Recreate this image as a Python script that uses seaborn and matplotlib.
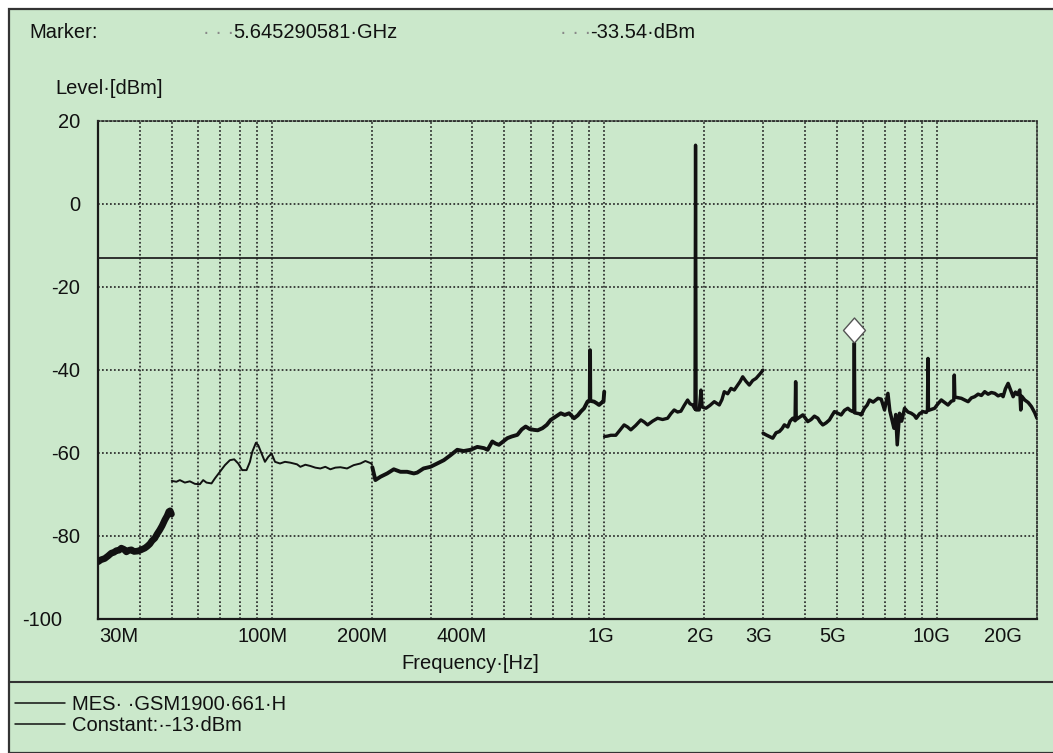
import matplotlib
matplotlib.use("Agg")
import matplotlib.pyplot as plt
from matplotlib.lines import Line2D
from matplotlib.patches import Rectangle
from matplotlib.transforms import ScaledTranslation
import pandas as pd
import seaborn as sns

# ---------------------------------------------------------------------------
# Measured spectrum, split at the receiver band edges (frequency in MHz, level in dBm)
# ---------------------------------------------------------------------------
band1_freq = [30.0, 30.63, 31.43, 32.15, 32.90, 33.52, 34.06, 34.70, 35.26, 35.93,
              36.51, 37.20, 37.80, 38.51, 39.59, 40.43, 41.48, 42.14, 42.94, 43.64,
              44.46, 45.17, 46.02, 46.77, 47.65, 48.42, 48.99, 49.44, 49.9]
band1_level = [-86.3, -85.8, -85.5, -84.9, -84.2, -84.0, -83.6, -83.5, -83.0, -83.3,
               -83.9, -83.5, -83.4, -83.8, -83.7, -83.4, -83.0, -82.6, -82.0, -81.2,
               -80.6, -79.6, -78.6, -77.6, -76.2, -75.2, -74.2, -74.0, -74.8]

band2_freq = [50.0, 51.64, 52.87, 54.74, 56.66, 58.66, 60.74, 62.15, 63.59, 65.84,
              67.40, 69.79, 72.24, 74.79, 77.05, 79.22, 81.44, 83.91, 85.91, 87.30,
              89.56, 91.00, 93.12, 95.33, 97.54, 99.80, 102.2, 105.8, 109.5, 113.6,
              119.0, 121.8, 126.1, 130.5, 135.1, 139.9, 144.8, 149.9, 155.2, 160.7,
              168.3, 176.2, 184.6, 191.1, 197.9, 200.0]
band2_level = [-66.8, -67.0, -66.6, -67.2, -66.9, -67.5, -67.6, -66.6, -67.2, -67.4,
               -66.2, -64.6, -63.0, -61.8, -61.6, -62.6, -64.2, -64.2, -62.2, -59.8,
               -57.6, -58.2, -60.2, -62.2, -61.0, -60.2, -62.2, -62.6, -62.2, -62.4,
               -62.8, -63.4, -62.9, -63.2, -63.6, -63.8, -63.4, -64.0, -63.6, -63.5,
               -63.8, -63.0, -62.6, -62.0, -62.5, -62.8]

band3_freq = [200.5, 204.8, 212.1, 222.2, 232.6, 243.6, 255.2, 267.2, 273.5, 285.8,
              300.0, 314.3, 329.0, 344.6, 361.0, 377.2, 395.9, 414.8, 434.2, 445.5,
              460.2, 470.9, 481.8, 494.3, 510.7, 526.2, 547.4, 564.0, 579.8, 596.2,
              614.2, 630.3, 651.1, 670.9, 689.7, 714.1, 739.3, 760.1, 783.1, 810.7,
              831.8, 849.2, 868.8, 889.5, 903.8, 905.5, 907.0, 931.2, 948.7, 963.9,
              982.2, 993.8, 999.0]
band3_level = [-63.5, -66.6, -65.8, -65.0, -64.0, -64.6, -64.6, -65.0, -64.8, -63.8,
               -63.4, -62.6, -61.8, -60.6, -59.3, -59.6, -59.3, -58.6, -58.9, -59.3,
               -57.3, -57.8, -58.1, -57.4, -56.5, -56.1, -55.7, -54.4, -53.7, -54.3,
               -54.5, -54.6, -54.1, -53.3, -52.1, -51.3, -50.5, -50.9, -50.5, -51.7,
               -51.0, -50.1, -49.3, -47.7, -47.3, -35.3, -47.5, -47.7, -48.1, -48.5,
               -47.9, -47.7, -45.3]

band4_freq = [1001.0, 1021.7, 1045.5, 1082.3, 1112.9, 1146.5, 1173.9, 1201.0, 1243.5, 1287.2,
              1317.2, 1348.5, 1396.2, 1445.3, 1496.4, 1549.3, 1585.0, 1621.5, 1660.4, 1698.7,
              1738.3, 1779.5, 1808.1, 1842.5, 1873.0, 1880.0, 1887.0, 1928.6, 1951.7, 1968.0,
              2020.4, 2077.4, 2140.1, 2215.7, 2257.4, 2293.5, 2348.6, 2402.8, 2458.6, 2517.0,
              2557.4, 2606.1, 2666.2, 2727.7, 2793.3, 2857.7, 2938.5, 2999.0]
band4_level = [-56.1, -56.0, -55.8, -55.8, -54.6, -53.3, -53.8, -54.5, -53.4, -52.1,
               -52.6, -53.3, -52.4, -51.7, -52.0, -51.7, -50.6, -49.7, -50.2, -50.0,
               -48.6, -47.3, -48.2, -48.5, -49.5, 14.1, -49.7, -49.7, -44.9, -49.0,
               -49.3, -48.6, -47.7, -48.5, -47.2, -45.3, -45.8, -44.5, -44.9, -43.7,
               -42.9, -41.7, -42.8, -43.7, -42.6, -42.1, -41.0, -40.1]

band5_freq = [3001.0, 3062.7, 3134.1, 3208.5, 3283.2, 3358.8, 3422.1, 3477.6, 3560.1, 3617.4,
              3686.4, 3745.5, 3760.0, 3775.0, 3951.0, 4014.3, 4089.9, 4185.0, 4281.6, 4383.9,
              4454.4, 4538.4, 4644.0, 4751.1, 4840.5, 4919.1, 5036.1, 5152.2, 5272.2, 5397.3,
              5483.7, 5588.1, 5630.0, 5645.290581, 5660.0, 5838.0, 5919.3, 6056.1, 6171.3, 6270.3,
              6432.6, 6646.5, 6799.8, 6957.9, 7123.2, 7218.0, 7287.6, 7426.5, 7520.0, 7597.8,
              7719.6, 7835.0, 7993.2, 8183.1, 8373.6, 8549.4, 8668.2, 8870.1, 9080.7, 9292.2,
              9370.0, 9400.0, 9430.0, 9842.7, 10076.0, 10309.0, 10549.0, 10799.0, 11051.0, 11240.0,
              11280.0, 11320.0, 11847.0, 12120.0, 12411.0, 12697.0, 12990.0, 13302.0, 13609.0, 13925.0,
              14256.0, 14585.0, 14924.0, 15279.0, 15634.0, 15815.0, 16072.0, 16374.0, 16640.0, 16954.0,
              17225.0, 17469.0, 17749.0, 17870.0, 18000.0, 18373.0, 18813.0, 19248.0, 19696.0, 20000.0]
band5_level = [-55.3, -55.7, -56.1, -56.5, -55.2, -54.9, -54.2, -53.3, -53.8, -52.4,
               -51.7, -52.3, -42.9, -52.0, -50.9, -51.6, -52.5, -52.0, -51.2, -51.7,
               -52.6, -53.3, -52.8, -52.1, -51.0, -50.1, -50.5, -50.9, -49.8, -49.3,
               -49.8, -50.1, -49.9, -33.54, -50.4, -50.6, -50.9, -49.3, -48.5, -47.3,
               -47.8, -46.9, -47.1, -49.7, -45.7, -49.9, -51.3, -54.1, -50.8, -58.1,
               -50.5, -52.4, -49.3, -50.2, -50.5, -51.0, -51.7, -50.6, -50.1, -50.3,
               -49.7, -37.3, -49.8, -49.3, -48.2, -47.3, -47.9, -48.5, -47.6, -47.4,
               -41.3, -46.6, -46.9, -47.3, -47.7, -46.8, -46.5, -45.9, -46.2, -45.3,
               -45.9, -45.5, -45.7, -46.3, -46.0, -46.5, -44.6, -43.3, -44.8, -46.5,
               -45.4, -46.0, -44.9, -49.7, -46.4, -47.3, -47.9, -48.9, -50.4, -51.7]

limit_level = -13.0
marker_freq = 5645.290581
marker_level = -33.54

x_tick_freqs = [30, 100, 200, 400, 1000, 2000, 3000, 5000, 10000, 20000]
x_tick_labels = ["30M", "100M", "200M", "400M", "1G", "2G", "3G", "5G", "10G", "20G"]
grid_freqs = [40, 50, 60, 70, 80, 90,
              100, 200, 300, 400, 500, 600, 700, 800, 900,
              1000, 2000, 3000, 4000, 5000, 6000, 7000, 8000, 9000, 10000]
y_ticks = [-100, -80, -60, -40, -20, 0, 20]
y_tick_labels = ["-100", "-80", "-60", "-40", "-20", "0", "20"]

trace_name = "MES\u00b7 \u00b7GSM1900\u00b7661\u00b7H"
limit_name = "Constant:\u00b7-13\u00b7dBm"

# ---------------------------------------------------------------------------
# Styling
# ---------------------------------------------------------------------------
sns.set_style("white")
plt.rcParams["font.family"] = ["Liberation Sans", "DejaVu Sans"]
FS = 14.5
BG = "#cbe8cb"
INK = "#111111"
W, H = 1053, 753

fig = plt.figure(figsize=(W / 100, H / 100), dpi=100)
fig.patch.set_facecolor("white")


def fx(px):
    return px / W


def fy(py):
    return 1 - py / H


def shift(dx_px, dy_px):
    return ScaledTranslation(dx_px / 100, dy_px / 100, fig.dpi_scale_trans)


# panel background with its frame
fig.add_artist(Rectangle((fx(9), 0), 1 - fx(9) + 0.01, fy(9), transform=fig.transFigure,
                         facecolor=BG, edgecolor="#333333", lw=1.6, zorder=0))
# separator above the legend block
fig.add_artist(Line2D([fx(9), 1], [fy(682), fy(682)], transform=fig.transFigure,
                      color="#333333", lw=1.5))

ax = fig.add_axes([fx(98), fy(618.7), fx(1037) - fx(98), fy(120.7) - fy(618.7)])
ax.set_facecolor(BG)
ax.set_xscale("log")

segments = [
    (band1_freq, band1_level, 4.8),
    (band2_freq, band2_level, 1.4),
    (band3_freq, band3_level, 2.8),
    (band4_freq, band4_level, 2.4),
    (band5_freq, band5_level, 2.5),
]
for freq, level, lw in segments:
    df = pd.DataFrame({"freq": freq, "level": level})
    sns.lineplot(data=df, x="freq", y="level", ax=ax, color=INK, lw=lw,
                 estimator=None, sort=False, legend=False, zorder=4)

lim_df = pd.DataFrame({"freq": [x_tick_freqs[0], x_tick_freqs[-1]],
                       "level": [limit_level, limit_level]})
sns.lineplot(data=lim_df, x="freq", y="level", ax=ax, color="#222222", lw=1.3,
             estimator=None, legend=False, zorder=3)

# marker symbol sits on top of the marked peak
diamond = [(0, -1), (0.88, 0), (0, 1), (-0.88, 0), (0, -1)]
ax.plot([marker_freq], [marker_level], marker=diamond, ms=18, mfc="white",
        mec="#555555", mew=1.0, ls="none", zorder=6, transform=ax.transData + shift(0, 12.5))

ax.set_xlim(x_tick_freqs[0], x_tick_freqs[-1])
ax.set_ylim(y_ticks[0], y_ticks[-1])

# grid: every decade subdivision, dotted
ax.set_xticks(grid_freqs)
ax.set_xticks([], minor=True)
ax.set_xticklabels([])
ax.set_yticks(y_ticks)
ax.set_yticklabels([])
ax.tick_params(which="both", length=0)
dots = dict(color="#2a2a2a", lw=1.25, linestyle=(0, (1, 1.3)))
ax.grid(False)
ax.xaxis.grid(True, which="major", **dots)
ax.yaxis.grid(True, which="major", **dots)

for side in ["left", "bottom"]:
    ax.spines[side].set_color("#1a1a1a")
    ax.spines[side].set_linewidth(1.6)
for side in ["top", "right"]:
    ax.spines[side].set_color("#2a2a2a")
    ax.spines[side].set_linewidth(1.25)
    ax.spines[side].set_linestyle((0, (1, 1.3)))

ax.set_xlabel("")
ax.set_ylabel("")

# tick labels placed in pixel offsets from their tick positions
xlab_shift = {"30M": 21, "100M": -9, "200M": -10, "400M": -10, "1G": -4, "2G": -4,
              "3G": -4, "5G": -4, "10G": -5, "20G": -34}
for f, lab in zip(x_tick_freqs, x_tick_labels):
    ax.text(f, 0, lab, transform=ax.get_xaxis_transform() + shift(xlab_shift[lab], -23),
            ha="center", va="baseline", fontsize=FS, color=INK, clip_on=False)

ylab_shift = {"-100": -36}
for v, lab in zip(y_ticks, y_tick_labels):
    ax.text(0, v, lab, transform=ax.get_yaxis_transform() + shift(ylab_shift.get(lab, -18), -7.2),
            ha="right", va="baseline", fontsize=FS, color=INK, clip_on=False)

# axis titles
fig.text(fx(470), fy(669), "Frequency\u00b7[Hz]", ha="center", va="baseline", fontsize=FS, color=INK)
fig.text(fx(55), fy(94.3), "Level\u00b7[dBm]", ha="left", va="baseline", fontsize=FS, color=INK)

# marker read-out
fig.text(fx(29), fy(37.7), "Marker:", ha="left", va="baseline", fontsize=FS, color=INK)
fig.text(fx(203), fy(37.7), "\u00b7 \u00b7 \u00b7", ha="left", va="baseline", fontsize=FS, color="#888888")
fig.text(fx(233), fy(37.7), "5.645290581\u00b7GHz", ha="left", va="baseline", fontsize=FS, color=INK)
fig.text(fx(560), fy(37.7), "\u00b7 \u00b7 \u00b7", ha="left", va="baseline", fontsize=FS, color="#888888")
fig.text(fx(590), fy(37.7), f"{marker_level:.2f}\u00b7dBm", ha="left", va="baseline", fontsize=FS, color=INK)

# legend block
for row_y, name in [(703, trace_name), (723.5, limit_name)]:
    fig.add_artist(Line2D([fx(15), fx(65)], [fy(row_y), fy(row_y)], transform=fig.transFigure,
                          color=INK, lw=1.1))
    fig.text(fx(72), fy(row_y + 7.2), name, ha="left", va="baseline", fontsize=FS, color=INK)

fig.savefig("out.png", dpi=100, facecolor=fig.get_facecolor())
